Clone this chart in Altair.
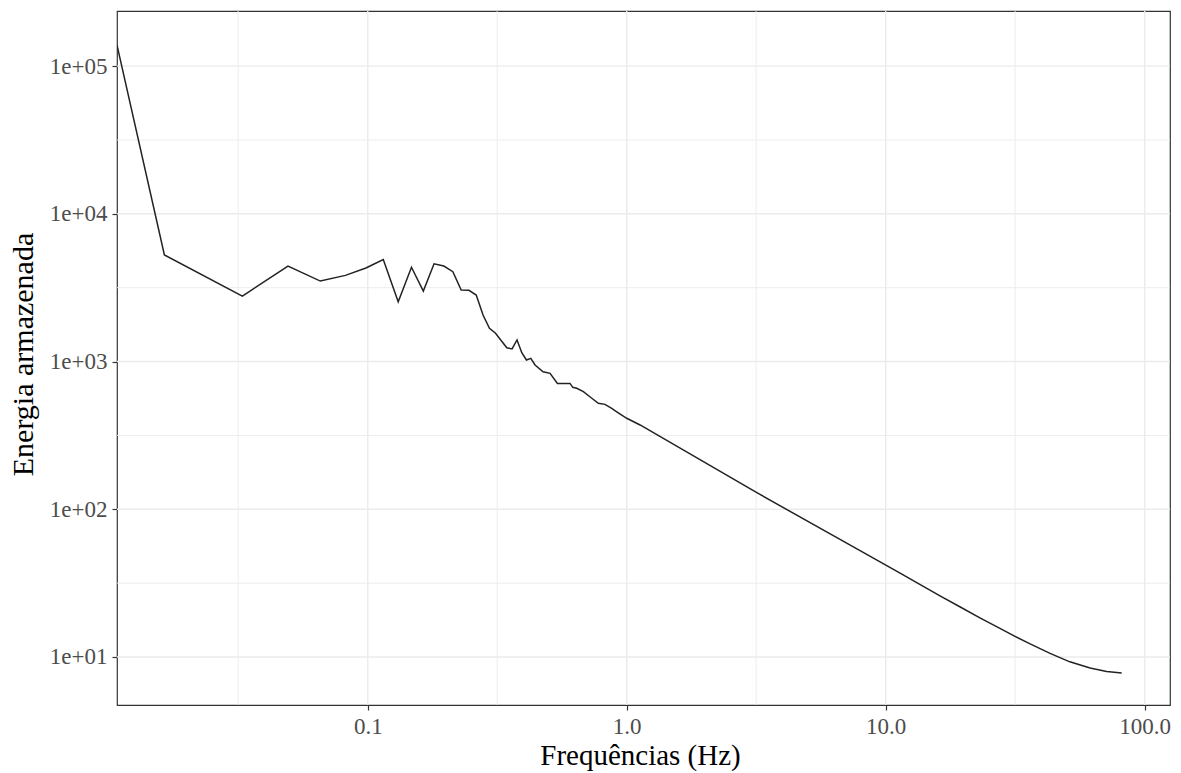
import altair as alt
import pandas as pd

# Frequencies (Hz) and stored energy
freq = [0.01076, 0.0164, 0.0328, 0.0492, 0.0656, 0.0820, 0.0984, 0.1148, 0.1311,
        0.1475, 0.1639, 0.1803, 0.1967, 0.2131, 0.2295, 0.2459, 0.2623, 0.2787,
        0.2951, 0.3115, 0.3279, 0.3443, 0.3607, 0.3770, 0.3934, 0.4098, 0.4262,
        0.4426, 0.4754, 0.5057, 0.540, 0.604, 0.619, 0.641, 0.680, 0.733, 0.777,
        0.824, 0.875, 0.915, 1.0, 1.126, 3.18, 7.96, 11.36, 16.2, 19.4, 23.1,
        27.6, 31.3, 36.1, 43.1, 51.4, 61.5, 71.3, 81.5]
energy = [138700, 5260, 2775, 4430, 3505, 3830, 4300, 4900, 2540,
          4345, 2998, 4590, 4430, 4055, 3048, 3033, 2820, 2065,
          1680, 1553, 1384, 1240, 1216, 1400, 1148, 1024, 1051,
          947, 853, 832, 711, 711, 669, 659, 625, 564, 521,
          513, 482, 457, 413, 372, 129.4, 52.4, 36.9, 25.9, 21.8, 18.4,
          15.6, 13.9, 12.25, 10.57, 9.27, 8.41, 7.98, 7.80]

x_major = [0.1, 1, 10, 100]
x_minor = [0.0316, 0.316, 3.16, 31.6]
y_major = [10, 100, 1000, 10000, 100000]
y_minor = [31.6, 316, 3162, 31623]

df = pd.DataFrame({"freq": freq, "energy": energy})

xscale = alt.Scale(type="log", domain=[0.01076, 125.2], nice=False)
yscale = alt.Scale(type="log", domain=[4.73, 236000], nice=False)

grid_color = "#EBEBEB"

gx_minor = alt.Chart(pd.DataFrame({"v": x_minor})).mark_rule(
    color=grid_color, strokeWidth=0.9).encode(x=alt.X("v:Q", scale=xscale, axis=None))
gy_minor = alt.Chart(pd.DataFrame({"v": y_minor})).mark_rule(
    color=grid_color, strokeWidth=0.9).encode(y=alt.Y("v:Q", scale=yscale, axis=None))
gx_major = alt.Chart(pd.DataFrame({"v": x_major})).mark_rule(
    color=grid_color, strokeWidth=1.4).encode(x=alt.X("v:Q", scale=xscale, axis=None))
gy_major = alt.Chart(pd.DataFrame({"v": y_major})).mark_rule(
    color=grid_color, strokeWidth=1.4).encode(y=alt.Y("v:Q", scale=yscale, axis=None))

serif = "Liberation Serif"

line = alt.Chart(df).mark_line(color="#222222", strokeWidth=1.5, clip=True).encode(
    x=alt.X("freq:Q", scale=xscale,
            axis=alt.Axis(values=x_major, format=".1f", grid=False, domain=False,
                          title="Frequências (Hz)", titleFont=serif, titleFontSize=29,
                          titleFontWeight="normal", titleColor="black",
                          titleBaseline="alphabetic", titleY=59, titleX=523,
                          labelFont=serif, labelFontSize=23, labelColor="#4D4D4D",
                          tickColor="#333333", tickWidth=1.2, tickSize=5,
                          labelPadding=5, labelFlush=False, labelOverlap=False)),
    y=alt.Y("energy:Q", scale=yscale,
            axis=alt.Axis(values=y_major, grid=False, domain=False,
                          labelExpr="'1e+0' + round(log(datum.value) / LN10)",
                          title="Energia armazenada", titleFont=serif, titleFontSize=30,
                          titleFontWeight="normal", titleColor="black",
                          titleBaseline="alphabetic", titleAngle=270,
                          titleX=-85, titleY=343,
                          labelFont=serif, labelFontSize=23, labelColor="#4D4D4D",
                          tickColor="#333333", tickWidth=1.2, tickSize=5,
                          labelPadding=5, labelFlush=False, labelOverlap=False)),
)

chart = alt.layer(gx_minor, gy_minor, gx_major, gy_major, line).resolve_axis(
    x="independent", y="independent"
).properties(
    width=1053, height=694,
    autosize=alt.AutoSizeParams(type="none"),
    padding={"left": 117, "top": 11, "right": 11, "bottom": 68},
    background="white",
).configure_view(stroke="#333333", strokeWidth=1.2)

chart.save("out.html", embed_options={"renderer": "svg", "actions": False})
